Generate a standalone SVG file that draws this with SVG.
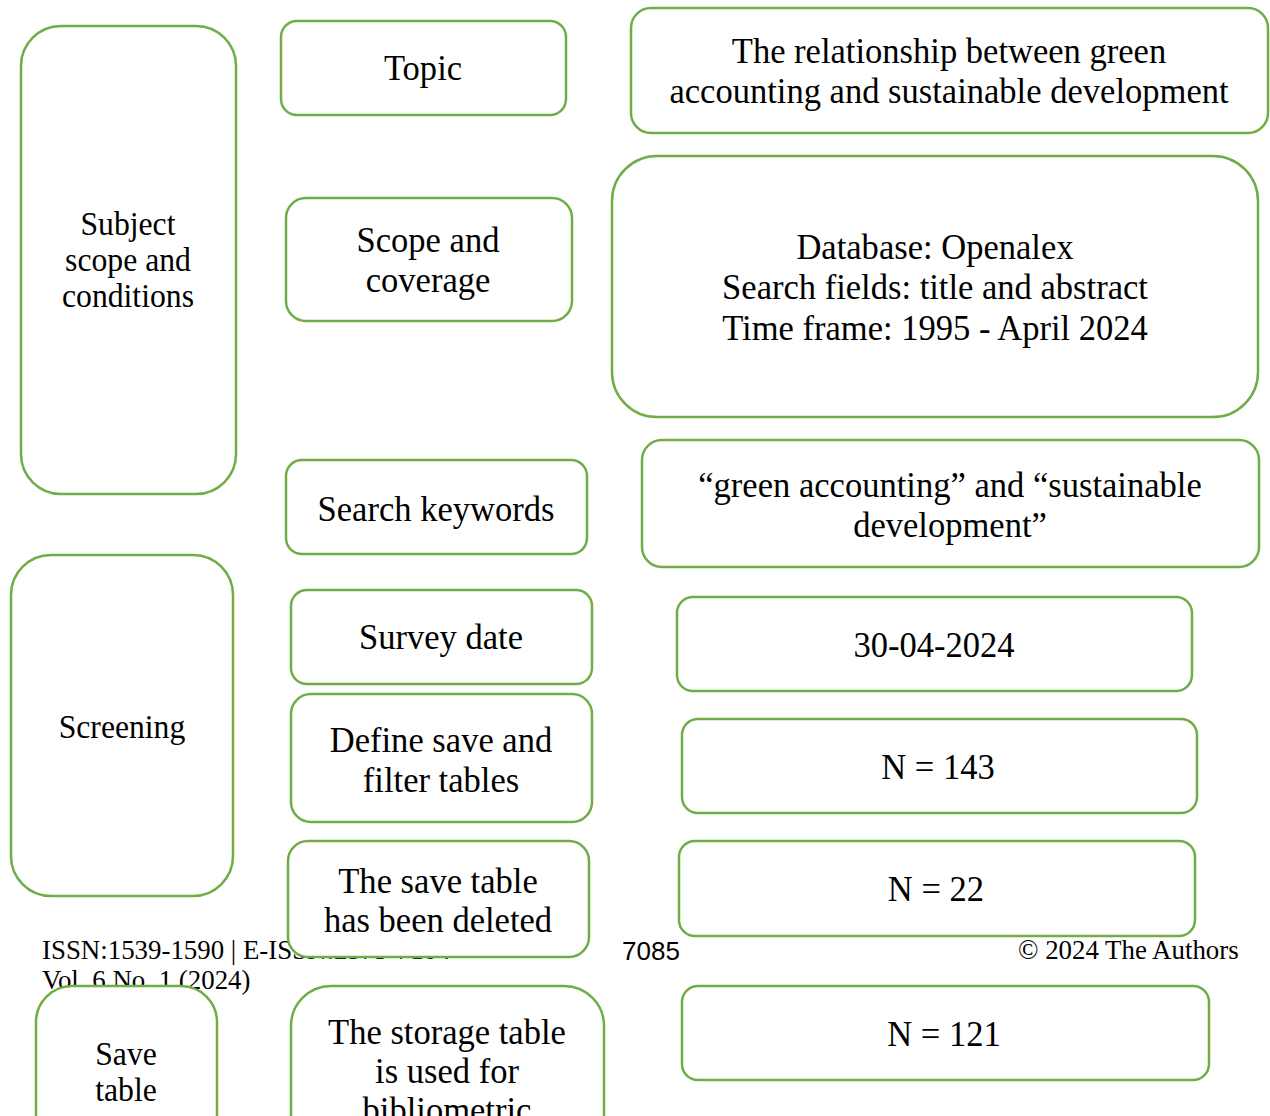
<svg xmlns="http://www.w3.org/2000/svg" width="1270" height="1116" viewBox="0 0 1270 1116">
<style>
.box{fill:#fff;stroke:#70AD47;stroke-width:2.5}
.t{font-family:"Liberation Serif","Times New Roman",serif;font-size:36px;fill:#000;text-anchor:middle;transform-box:fill-box;transform-origin:center;transform:scaleX(0.96)}
.s{font-size:33px}
.f{font-family:"Liberation Serif","Times New Roman",serif;font-size:28px;fill:#000;transform-box:fill-box;transform-origin:left center;transform:scaleX(0.96)}
.p{font-family:"Liberation Sans",Arial,sans-serif;font-size:26px;fill:#000}
</style>
<rect width="1270" height="1116" fill="#fff"/>
<g id="footer">
<text class="f" x="42" y="959">ISSN:1539-1590 | E-ISSN:2573-7104</text>
<text class="f" x="42" y="989">Vol. 6 No. 1 (2024)</text>
<text class="p" x="622" y="960">7085</text>
<text class="f" x="1018" y="959">© 2024 The Authors</text>
</g>
<g id="connectors"></g>
<g id="subject">
<rect class="box" x="21" y="26" width="215" height="468" rx="40"/>
<text class="t s" x="128" y="235"><tspan x="128">Subject</tspan><tspan x="128" dy="36">scope and</tspan><tspan x="128" dy="36">conditions</tspan></text>
</g>
<g id="topic">
<rect class="box" x="281" y="21" width="285" height="94" rx="16"/>
<text class="t" x="423" y="80">Topic</text>
</g>
<g id="relationship">
<rect class="box" x="631" y="8" width="637" height="125" rx="20"/>
<text class="t" x="949" y="63"><tspan x="949">The relationship between green</tspan><tspan x="949" dy="40">accounting and sustainable development</tspan></text>
</g>
<g id="scope">
<rect class="box" x="286" y="198" width="286" height="123" rx="20"/>
<text class="t" x="428" y="252"><tspan x="428">Scope and</tspan><tspan x="428" dy="40">coverage</tspan></text>
</g>
<g id="database">
<rect class="box" x="612" y="156" width="646" height="261" rx="45"/>
<text class="t" x="935" y="259"><tspan x="935">Database: Openalex</tspan><tspan x="935" dy="40.5">Search fields: title and abstract</tspan><tspan x="935" dy="40.5">Time frame: 1995 - April 2024</tspan></text>
</g>
<g id="keywords">
<rect class="box" x="286" y="460" width="301" height="94" rx="16"/>
<text class="t" x="436" y="521">Search keywords</text>
</g>
<g id="keywords-value">
<rect class="box" x="642" y="440" width="617" height="127" rx="20"/>
<text class="t" x="950" y="497"><tspan x="950">“green accounting” and “sustainable</tspan><tspan x="950" dy="40">development”</tspan></text>
</g>
<g id="screening">
<rect class="box" x="11" y="555" width="222" height="341" rx="40"/>
<text class="t s" x="122" y="738">Screening</text>
</g>
<g id="survey">
<rect class="box" x="291" y="590" width="301" height="94" rx="16"/>
<text class="t" x="441" y="649">Survey date</text>
</g>
<g id="survey-value">
<rect class="box" x="677" y="597" width="515" height="94" rx="16"/>
<text class="t" x="934" y="657">30-04-2024</text>
</g>
<g id="define">
<rect class="box" x="291" y="694" width="301" height="128" rx="20"/>
<text class="t" x="441" y="752"><tspan x="441">Define save and</tspan><tspan x="441" dy="40">filter tables</tspan></text>
</g>
<g id="n143">
<rect class="box" x="682" y="719" width="515" height="94" rx="16"/>
<text class="t" x="938" y="779">N = 143</text>
</g>
<g id="deleted">
<rect class="box" x="288" y="841" width="301" height="116" rx="20"/>
<text class="t" x="438" y="893"><tspan x="438">The save table</tspan><tspan x="438" dy="39">has been deleted</tspan></text>
</g>
<g id="n22">
<rect class="box" x="679" y="841" width="516" height="95" rx="16"/>
<text class="t" x="936" y="901">N = 22</text>
</g>
<g id="savetable">
<rect class="box" x="36" y="986" width="181" height="180" rx="36"/>
<text class="t s" x="126" y="1065"><tspan x="126">Save</tspan><tspan x="126" dy="36">table</tspan></text>
</g>
<g id="storage">
<rect class="box" x="291" y="986" width="313" height="200" rx="40"/>
<text class="t" x="447" y="1044"><tspan x="447">The storage table</tspan><tspan x="447" dy="39">is used for</tspan><tspan x="447" dy="39">bibliometric</tspan></text>
</g>
<g id="n121">
<rect class="box" x="682" y="986" width="527" height="94" rx="16"/>
<text class="t" x="944" y="1046">N = 121</text>
</g>
</svg>
